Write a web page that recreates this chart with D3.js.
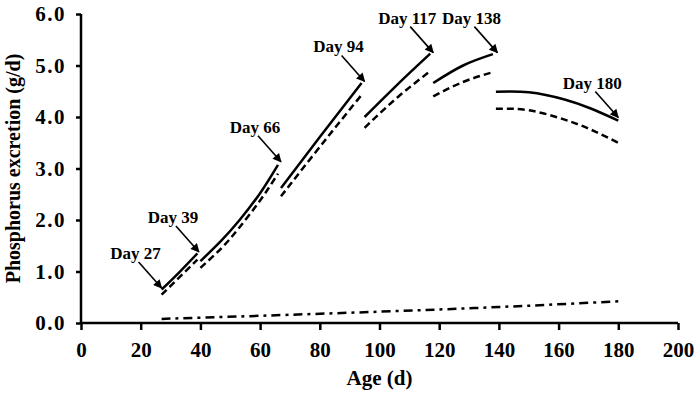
<!DOCTYPE html>
<html>
<head>
<meta charset="utf-8">
<script src="https://cdn.jsdelivr.net/npm/d3@7"></script>
<style>
  body { margin: 0; background: #fff; }
  text { font-family: "Times New Roman", "Liberation Serif", serif; font-weight: bold; }
</style>
</head>
<body>
<div id="chartFrame"></div>
<script>
// segments of the solid curve (age in d, P excretion in g/d)
const solidAge = [[27, 33, 39], [40, 47, 53, 60, 66], [67, 80, 94], [95, 106, 117], [118, 128, 138], [139, 150, 162, 171, 180]]
const solidP = [[0.65, 0.99, 1.35], [1.20, 1.60, 1.99, 2.52, 3.07], [2.62, 3.61, 4.66], [4.00, 4.63, 5.23], [4.66, 5.00, 5.22], [4.49, 4.48, 4.34, 4.16, 3.93]]
// dashed curve
const dashedAge = [[27, 33, 39], [40, 47, 53, 60, 66], [67, 80, 94], [95, 106, 117], [118, 128, 138], [139, 150, 162, 171, 180]]
const dashedP = [[0.55, 0.89, 1.23], [1.07, 1.45, 1.85, 2.38, 2.90], [2.46, 3.42, 4.43], [3.79, 4.38, 4.89], [4.40, 4.68, 4.87], [4.16, 4.13, 3.95, 3.75, 3.50]]
// dash-dot curve
const baseAge = [27, 60, 100, 140, 180]
const baseP = [0.08, 0.14, 0.22, 0.31, 0.42]
// annotations
const dayLabels = ['Day 27', 'Day 39', 'Day 66', 'Day 94', 'Day 117', 'Day 138', 'Day 180']
const arrowAge = [27, 39.5, 67, 95, 118, 139.5, 180]
const arrowP = [0.68, 1.38, 3.13, 4.69, 5.25, 5.25, 3.99]
const xTicks = [0, 20, 40, 60, 80, 100, 120, 140, 160, 180, 200]
const yTicks = [0, 1, 2, 3, 4, 5, 6]

const boxWidth = 700
const boxHeight = 397
const margin = { top: 14, left: 81, right: 22, bottom: 74 }
const width = boxWidth - margin.left - margin.right
const height = boxHeight - margin.top - margin.bottom

const root = d3.select('#chartFrame').append('svg')
  .attr('width', boxWidth)
  .attr('height', boxHeight)
root.append('defs').append('marker')
  .attr('id', 'head')
  .attr('viewBox', '0 0 10 10')
  .attr('refX', 9)
  .attr('refY', 5)
  .attr('markerWidth', 6.5)
  .attr('markerHeight', 5.5)
  .attr('markerUnits', 'strokeWidth')
  .attr('orient', 'auto')
  .append('path')
  .attr('d', 'M0,0 L10,5 L0,10 z')
  .style('fill', '#000')

const svg = root.append('g')
  .attr('transform', `translate(${margin.left},${margin.top})`)

const xScale = d3.scaleLinear().domain([0, 200]).range([0, width])
const yScale = d3.scaleLinear().domain([0, 6]).range([height, 0])

let xaxis = svg.append('g')
  .attr('transform', `translate(0,${height})`)
  .call(d3.axisBottom(xScale).tickValues(xTicks).tickSize(7).tickPadding(12).tickSizeOuter(0))
let yaxis = svg.append('g')
  .call(d3.axisLeft(yScale).tickValues(yTicks).tickFormat(d3.format('.1f')).tickSize(5).tickPadding(10).tickSizeOuter(0))
;[xaxis, yaxis].forEach(ax => {
  ax.selectAll('path, line').style('stroke', '#000').style('stroke-width', 2.5)
  ax.selectAll('text').style('font-size', '21px').style('fill', '#000')
    .style('font-family', '"Times New Roman", "Liberation Serif", serif').style('font-weight', 'bold')
})
yaxis.selectAll('text').style('letter-spacing', '1.5px')
xaxis.select('.domain').attr('d', `M0,0H${width}`)
yaxis.select('.domain').attr('d', `M0,${height}V0`)

svg.append('text')
  .attr('x', width / 2)
  .attr('y', height + 62)
  .attr('text-anchor', 'middle')
  .style('font-size', '21px')
  .text('Age (d)')
svg.append('text')
  .attr('transform', `translate(${-61},${height / 2}) rotate(-90)`)
  .attr('text-anchor', 'middle')
  .style('font-size', '20px')
  .text('Phosphorus excretion (g/d)')

let line = d3.line()
  .x(d => xScale(d[0]))
  .y(d => yScale(d[1]))
  .curve(d3.curveNatural)

solidAge.forEach((ages, i) => {
  svg.append('path')
    .datum(ages.map((a, j) => [a, solidP[i][j]]))
    .attr('d', line)
    .style('fill', 'none')
    .style('stroke', '#000')
    .style('stroke-width', 2.5)
})
dashedAge.forEach((ages, i) => {
  svg.append('path')
    .datum(ages.map((a, j) => [a, dashedP[i][j]]))
    .attr('d', line)
    .style('fill', 'none')
    .style('stroke', '#000')
    .style('stroke-width', 2.5)
    .style('stroke-dasharray', '7,4')
})
svg.append('path')
  .datum(baseAge.map((a, j) => [a, baseP[j]]))
  .attr('d', line)
  .style('fill', 'none')
  .style('stroke', '#000')
  .style('stroke-width', 2.5)
  .style('stroke-dasharray', '9,5,3,5')

let g = svg.append('g')
dayLabels.forEach((label, i) => {
  let tx = xScale(arrowAge[i])
  let ty = yScale(arrowP[i])
  let sx = tx - 23
  let sy = ty - 26
  g.append('line')
    .attr('x1', sx).attr('y1', sy)
    .attr('x2', tx).attr('y2', ty)
    .style('stroke', '#000')
    .style('stroke-width', 1.6)
    .attr('marker-end', 'url(#head)')
  g.append('text')
    .attr('x', sx - 3)
    .attr('y', sy - 3)
    .attr('text-anchor', 'middle')
    .style('font-size', '17px')
    .text(label)
})
</script>
</body>
</html>
